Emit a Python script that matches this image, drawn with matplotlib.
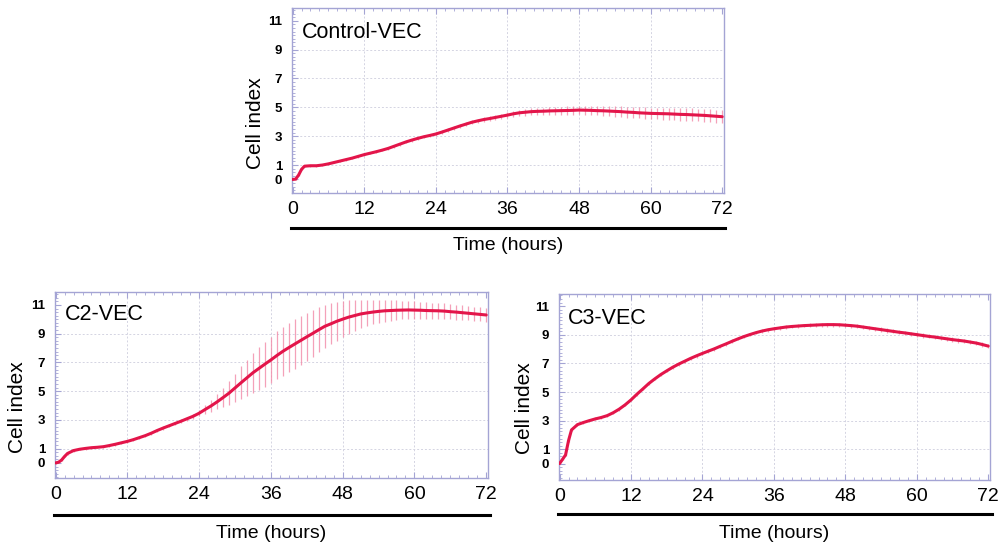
import matplotlib
matplotlib.use("Agg")
import matplotlib.pyplot as plt
from matplotlib.lines import Line2D
from matplotlib.ticker import MultipleLocator

plt.rcParams['font.family'] = ['Liberation Sans', 'DejaVu Sans']

# Time points (hours)
hours = [0, 0.5, 1, 1.5, 2] + list(range(3, 73))

# Cell index, mean per time point
control_vec = [0.0, 0.02, 0.3, 0.7, 0.92, 0.95, 0.95, 1.0, 1.08, 1.18, 1.28, 1.38, 1.48, 1.6,
               1.72, 1.82, 1.92, 2.03, 2.15, 2.3, 2.45, 2.6, 2.73, 2.85, 2.96, 3.05, 3.15,
               3.28, 3.42, 3.56, 3.7, 3.83, 3.96, 4.06, 4.15, 4.22, 4.3, 4.38, 4.46, 4.55,
               4.62, 4.66, 4.7, 4.72, 4.73, 4.75, 4.76, 4.77, 4.78, 4.79, 4.81, 4.8, 4.79,
               4.77, 4.76, 4.74, 4.72, 4.7, 4.67, 4.65, 4.62, 4.6, 4.58, 4.57, 4.56, 4.55,
               4.53, 4.51, 4.5, 4.48, 4.46, 4.44, 4.41, 4.38, 4.35]
c2_vec = [0.0, 0.05, 0.2, 0.45, 0.66, 0.86, 0.95, 1.01, 1.06, 1.09, 1.13, 1.21, 1.3, 1.4,
          1.5, 1.62, 1.76, 1.9, 2.07, 2.26, 2.43, 2.59, 2.75, 2.91, 3.08, 3.25, 3.46,
          3.72, 3.97, 4.25, 4.55, 4.86, 5.22, 5.58, 5.93, 6.28, 6.58, 6.88, 7.17, 7.48,
          7.77, 8.03, 8.28, 8.53, 8.78, 9.02, 9.27, 9.51, 9.68, 9.86, 10.01, 10.15,
          10.26, 10.37, 10.44, 10.5, 10.55, 10.59, 10.61, 10.63, 10.64, 10.65, 10.64,
          10.63, 10.61, 10.6, 10.59, 10.57, 10.53, 10.5, 10.46, 10.42, 10.38, 10.34, 10.3]
c3_vec = [0.0, 0.3, 0.6, 1.6, 2.35, 2.72, 2.87, 3.0, 3.12, 3.22, 3.35, 3.55, 3.8, 4.1,
          4.45, 4.85, 5.22, 5.6, 5.92, 6.22, 6.48, 6.73, 6.95, 7.15, 7.35, 7.53, 7.7,
          7.86, 8.02, 8.2, 8.37, 8.55, 8.72, 8.88, 9.02, 9.15, 9.26, 9.35, 9.42, 9.48,
          9.54, 9.58, 9.61, 9.64, 9.66, 9.68, 9.7, 9.71, 9.71, 9.7, 9.67, 9.64, 9.6,
          9.54, 9.48, 9.42, 9.36, 9.3, 9.24, 9.18, 9.13, 9.07, 9.01, 8.95, 8.89, 8.84,
          8.78, 8.72, 8.66, 8.61, 8.56, 8.49, 8.42, 8.32, 8.21]

# Standard deviation per time point
control_sd = [0.05, 0.05, 0.06, 0.06, 0.07, 0.07, 0.07, 0.07, 0.07, 0.07, 0.08, 0.08, 0.08,
              0.08, 0.08, 0.08, 0.09, 0.09, 0.09, 0.09, 0.1, 0.1, 0.1, 0.1, 0.11, 0.11,
              0.12, 0.12, 0.12, 0.13, 0.13, 0.14, 0.15, 0.15, 0.16, 0.17, 0.18, 0.19, 0.2,
              0.21, 0.22, 0.23, 0.24, 0.25, 0.25, 0.26, 0.27, 0.28, 0.29, 0.3, 0.3, 0.31,
              0.32, 0.33, 0.34, 0.35, 0.36, 0.37, 0.38, 0.38, 0.39, 0.4, 0.4, 0.41, 0.41,
              0.42, 0.42, 0.43, 0.43, 0.44, 0.44, 0.44, 0.45, 0.45, 0.45]
c2_sd = [0.06, 0.06, 0.07, 0.07, 0.08, 0.08, 0.08, 0.08, 0.08, 0.08, 0.09, 0.09, 0.09, 0.09,
         0.1, 0.1, 0.1, 0.1, 0.1, 0.11, 0.11, 0.12, 0.12, 0.13, 0.15, 0.18, 0.22, 0.3,
         0.4, 0.52, 0.68, 0.84, 1.0, 1.14, 1.27, 1.38, 1.48, 1.56, 1.62, 1.67, 1.7, 1.72,
         1.72, 1.7, 1.66, 1.62, 1.56, 1.5, 1.42, 1.34, 1.26, 1.18, 1.08, 1.0, 0.92, 0.86,
         0.8, 0.76, 0.72, 0.68, 0.65, 0.62, 0.6, 0.58, 0.57, 0.56, 0.55, 0.54, 0.53, 0.52,
         0.51, 0.5, 0.5, 0.49, 0.48]
c3_sd = [0.05, 0.06, 0.08, 0.1, 0.1, 0.1, 0.1, 0.1, 0.1, 0.1, 0.1, 0.1, 0.1, 0.1, 0.1,
         0.11, 0.11, 0.11, 0.11, 0.11, 0.11, 0.11, 0.11, 0.12, 0.12, 0.12, 0.12, 0.12,
         0.12, 0.12, 0.12, 0.12, 0.12, 0.12, 0.13, 0.13, 0.13, 0.13, 0.13, 0.13, 0.13,
         0.13, 0.13, 0.13, 0.13, 0.14, 0.14, 0.14, 0.14, 0.14, 0.14, 0.14, 0.14, 0.14,
         0.14, 0.14, 0.15, 0.15, 0.15, 0.15, 0.15, 0.15, 0.15, 0.15, 0.15, 0.15, 0.15,
         0.15, 0.15, 0.15, 0.15, 0.15, 0.15, 0.15, 0.15]

panel_names = ["Control-VEC", "C2-VEC", "C3-VEC"]
x_ticks = [0, 12, 24, 36, 48, 60, 72]
y_ticks = [0, 1, 3, 5, 7, 9, 11]

W, H = 998, 550
LINE = '#e3154a'
BAR = '#f28aa8'
FRAME = '#a4a4d4'
GRID = '#d4d4e2'

fig = plt.figure(figsize=(W / 100, H / 100), dpi=100)
fig.patch.set_facecolor('white')


def px_axes(left, top, right, bottom):
    return fig.add_axes([left / W, 1 - bottom / H, (right - left) / W, (bottom - top) / H])


def panel(box, name, means, sds, ylim, name_xy, ylabel_xy, rule_y, rule_x, xlabel_y):
    left, top, right, bottom = box
    ax = px_axes(left, top, right, bottom)
    lo = [m - s for m, s in zip(means, sds)]
    hi = [m + s for m, s in zip(means, sds)]
    ax.vlines(hours, lo, hi, colors=BAR, linewidth=0.9, alpha=0.8, zorder=2)
    ax.plot(hours, means, color=LINE, linewidth=2.2, zorder=3, solid_capstyle='round')
    ax.set_xlim(-0.1, 72.3)
    ax.set_ylim(*ylim)
    ax.set_xticks(x_ticks)
    ax.set_yticks(y_ticks)
    ax.xaxis.set_minor_locator(MultipleLocator(1.5))
    ax.yaxis.set_minor_locator(MultipleLocator(0.25))
    ax.tick_params(which='both', direction='in', colors=FRAME, top=True, right=False)
    ax.tick_params(which='major', length=4, width=0.8)
    ax.tick_params(which='minor', length=2, width=0.6)
    ax.tick_params(axis='x', labelsize=14, labelcolor='black', pad=6)
    ax.tick_params(axis='y', labelsize=9.5, labelcolor='black', pad=7)
    for lbl in ax.get_yticklabels():
        lbl.set_fontweight('bold')
    for sp in ax.spines.values():
        sp.set_color(FRAME)
        sp.set_linewidth(1.0)
    for xv in x_ticks[1:-1]:
        ax.axvline(xv, color=GRID, linewidth=0.7, linestyle=(0, (2, 2)), zorder=1)
    for yv in y_ticks[2:-1] + [1]:
        ax.axhline(yv, color=GRID, linewidth=0.7, linestyle=(0, (2, 2)), zorder=1)
    fig.text(name_xy[0] / W, 1 - name_xy[1] / H, name, fontsize=15.5, ha='left', va='center')
    fig.text(ylabel_xy[0] / W, 1 - ylabel_xy[1] / H, "Cell index", fontsize=15,
             rotation=90, ha='center', va='center')
    fig.add_artist(Line2D([rule_x[0] / W, rule_x[1] / W], [1 - rule_y / H, 1 - rule_y / H],
                          color='black', linewidth=2.2))
    fig.text((left + right) / 2 / W, 1 - xlabel_y / H, "Time (hours)", fontsize=14,
             ha='center', va='center')
    return ax


panel((292, 7.5, 724, 193), panel_names[0], control_vec, control_sd, (-0.94, 11.92),
      (302, 33), (256, 123), 228, (291, 725), 245)
panel((55, 292, 488, 478), panel_names[1], c2_vec, c2_sd, (-1.05, 11.9),
      (65, 315), (18, 407), 515, (54, 490), 534)
panel((559, 294, 990, 480), panel_names[2], c3_vec, c3_sd, (-1.15, 11.85),
      (568, 319), (525, 408), 514, (558, 992), 533)

fig.savefig("out.png", dpi=100, facecolor='white')
